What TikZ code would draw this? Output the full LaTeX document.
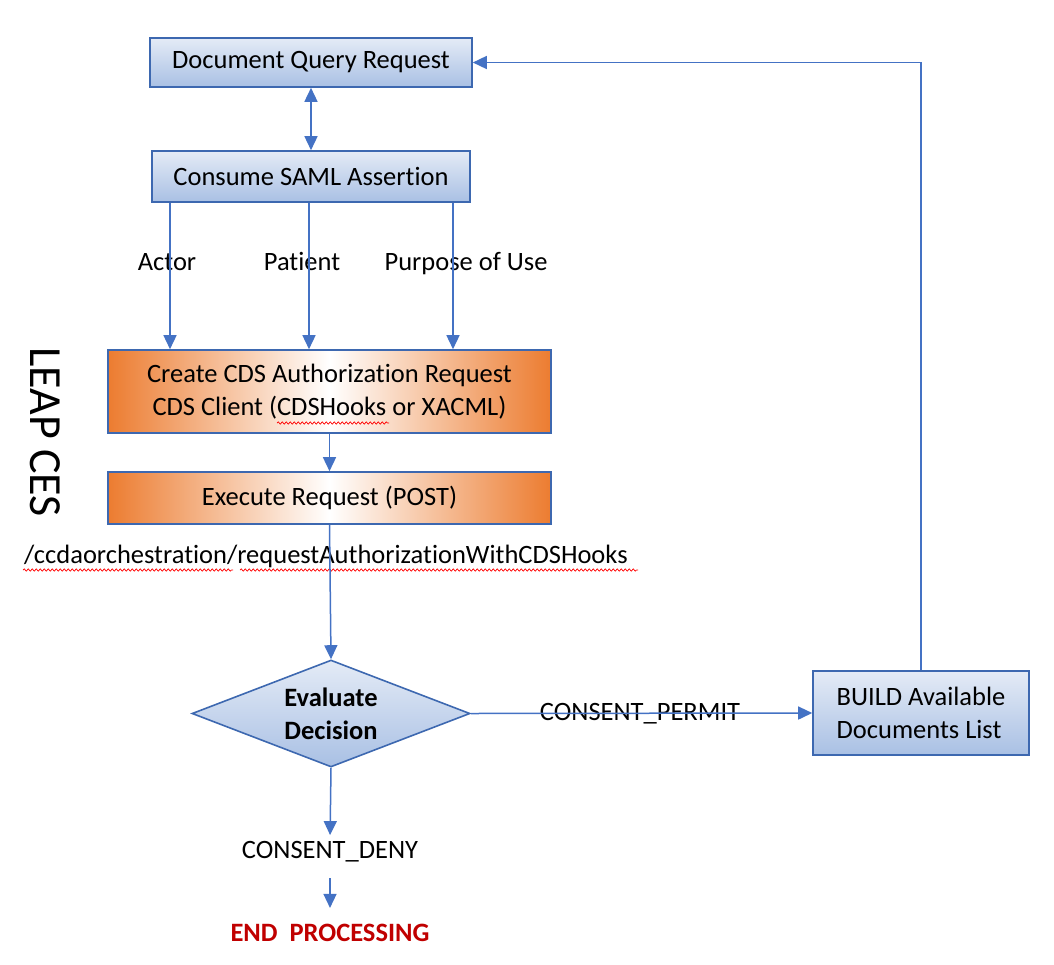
\documentclass[tikz,border=0pt]{standalone}
\usepackage{fontspec}
\setmainfont{Carlito}[Ligatures={NoCommon,NoContextual,NoRare},Contextuals=NoAlternate]
\usetikzlibrary{shapes.geometric,arrows.meta,decorations.pathmorphing}
\definecolor{bord}{HTML}{3D68B0}
\definecolor{arrc}{HTML}{4472C4}
\definecolor{bluetop}{HTML}{E4EBF6}
\definecolor{bluebot}{HTML}{A9C0E4}
\definecolor{orng}{HTML}{EC7C30}
\definecolor{endred}{HTML}{C00000}
\tikzset{
  base/.style={font=\fontsize{26.5}{33}\selectfont},
  bluebox/.style={base, draw=bord, line width=1.6pt, top color=bluetop, bottom color=bluebot, inner sep=0pt, align=center},
  orangebox/.style={base, draw=bord, line width=1.6pt, left color=orng, right color=orng, middle color=white, inner sep=0pt, align=center},
  lbl/.style={base, inner sep=0pt, anchor=base},
  arr/.style={draw=arrc, line width=1.5pt, -{Triangle[length=14pt,width=13pt]}},
  dbl/.style={draw=arrc, line width=1.5pt, {Triangle[length=14pt,width=13pt]}-{Triangle[length=14pt,width=13pt]}},
  wavy/.style={draw=red, line width=0.7pt, decorate, decoration={snake, segment length=4pt, amplitude=1.1pt}}
}
\begin{document}
\begin{tikzpicture}[x=1pt,y=-1pt]
\useasboundingbox (0,0) rectangle (1054,964);
% boxes
\node[bluebox, minimum width=322pt, minimum height=49pt] (dqr) at (311,62.5) {Document Query Request};
\node[bluebox, minimum width=318pt, minimum height=51pt] (saml) at (311,176.5) {Consume SAML Assertion};
\node[orangebox, minimum width=443pt, minimum height=83pt] (create) at (329.5,391.5) {Create CDS Authorization Request\\CDS Client (CDSHooks or XACML)};
\node[orangebox, minimum width=443pt, minimum height=52pt] (exec) at (329.5,498) {Execute Request (POST)};
\node[diamond, base, draw=bord, line width=1.6pt, top color=bluetop, bottom color=bluebot, inner sep=0pt, aspect=2.6, minimum width=278pt, minimum height=107pt, align=center, font=\fontsize{26.5}{33}\selectfont\bfseries] (dec) at (331,713.5) {Evaluate\\Decision};
\node[bluebox, minimum width=216pt, minimum height=84pt, align=left] (build) at (921,713) {BUILD Available\\Documents List};
% labels
\node[lbl] (actor) at (167,270.5) {Actor};
\node[lbl] (patient) at (302,270.5) {Patient};
\node[lbl] (purpose) at (466,270.5) {Purpose of Use};
\node[lbl] (path) at (326,563.5) {/ccdaorchestration/requestAuthorizationWithCDSHooks};
\node[lbl] (permit) at (640,720.5) {CONSENT\_PERMIT};
\node[lbl] (deny) at (330,858.5) {CONSENT\_DENY};
\node[lbl, text=endred, font=\fontsize{26.5}{33}\selectfont\bfseries] (endp) at (330,941.5) {END\ \ PROCESSING};
\node[base, inner sep=0pt, font=\fontsize{46}{50}\selectfont, rotate=-90] (leap) at (45,432) {LEAP CES};
% spell-check underlines
\draw[wavy] (277,423) -- (389,423);
\draw[wavy] (23,570) -- (233,570);
\draw[wavy] (240,570) -- (638,570);
% coordinates for the three SAML outputs
\coordinate (c1) at (170,0);
\coordinate (c2) at (309,0);
\coordinate (c3) at (453,0);
% connectors
\draw[dbl] (dqr.south) -- (saml.north);
\draw[arr] (saml.south -| c1) -- (create.north -| c1);
\draw[arr] (saml.south -| c2) -- (create.north -| c2);
\draw[arr] (saml.south -| c3) -- (create.north -| c3);
\draw[arr] (create.south) -- (exec.north);
\draw[arr] (exec.south) -- (dec.north);
\draw[arr] (dec.east) -- (build.west);
\draw[arr] (build.north) |- (dqr.east);
\draw[arr, shorten >=6pt] (dec.south) -- (deny.north);
\draw[arr, shorten <=16pt, shorten >=16pt] (deny.south) -- (endp.north);
\end{tikzpicture}
\end{document}
